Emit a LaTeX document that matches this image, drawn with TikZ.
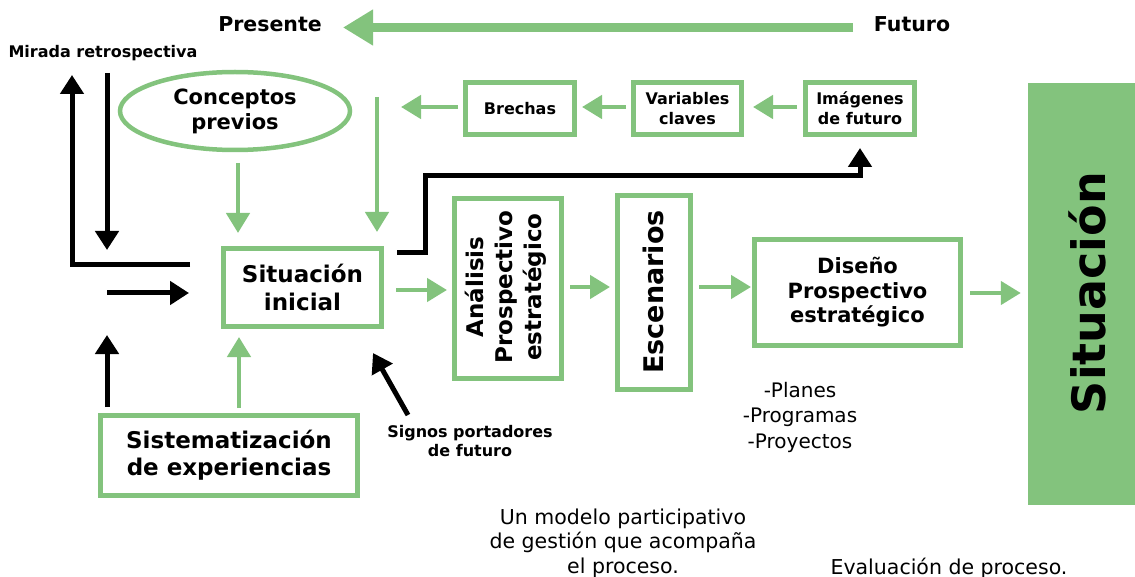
\documentclass[tikz,border=0pt]{standalone}
\usepackage{fontspec}
\setmainfont{DejaVu Sans}
\usetikzlibrary{arrows.meta,shapes.geometric}
\definecolor{gr}{RGB}{131,195,125}
\begin{document}
\begin{tikzpicture}[x=1pt,y=-1pt,
  gbox/.style={draw=gr, line width=5pt, inner sep=0pt, align=center},
  garrow/.style={draw=gr, line width=4.5pt, -{Triangle[width=23pt,length=20pt]}},
  bigarrow/.style={draw=gr, line width=9pt, -{Triangle[width=34pt,length=30pt]}},
  barrow/.style={draw=black, line width=5pt, -{Triangle[width=23pt,length=19pt]}},
  lbl/.style={inner sep=0pt, align=center},
]
\useasboundingbox (0,0) rectangle (1135,577);

% top labels and big arrow
\node[lbl, font=\bfseries\fontsize{20.5}{24}\selectfont, anchor=base] (pres) at (270,32) {Presente};
\node[lbl, font=\bfseries\fontsize{20.5}{24}\selectfont, anchor=base] (fut) at (912,32) {Futuro};
\coordinate (bigA) at (853,27.5);
\coordinate (bigB) at (343,27.5);
\draw[bigarrow] (bigA) -- (bigB);

\node[lbl, font=\bfseries\fontsize{16}{19}\selectfont, anchor=base] (mir) at (103,58) {Mirada retrospectiva};

% top row boxes
\node[gbox, minimum width=109pt, minimum height=52pt, font=\bfseries\fontsize{16}{20}\selectfont] (bre) at (520,108.5) {Brechas};
\node[gbox, minimum width=108pt, minimum height=52pt, font=\bfseries\fontsize{16}{20}\selectfont] (var) at (687.5,108.5) {Variables\\claves};
\node[gbox, minimum width=109pt, minimum height=52pt, font=\bfseries\fontsize{16}{20}\selectfont] (img) at (860,108.5) {Imágenes\\de futuro};

% ellipse
\node[ellipse, draw=gr, line width=4.5pt, minimum width=230pt, minimum height=78pt, inner sep=0pt, align=center, font=\bfseries\fontsize{21}{25}\selectfont] (con) at (235,111) {Conceptos\\previos};

% main boxes
\node[gbox, minimum width=158pt, minimum height=78pt, font=\bfseries\fontsize{23}{28}\selectfont] (sit) at (302.5,287.5) {Situación\\inicial};
\node[gbox, minimum width=257pt, minimum height=80pt, font=\bfseries\fontsize{23}{27}\selectfont] (sis) at (229,455.5) {Sistematización\\de experiencias};
\node[gbox, minimum width=107pt, minimum height=180pt] (ana) at (508,288.5) {};
\node[lbl, rotate=90, font=\bfseries\fontsize{23}{29}\selectfont] (anat) at (506,287) {Análisis\\Prospectivo\\estratégico};
\node[gbox, minimum width=73pt, minimum height=194pt] (esc) at (654,292.5) {};
\node[lbl, rotate=90, font=\bfseries\fontsize{27}{32}\selectfont] (esct) at (653,292) {Escenarios};
\node[gbox, minimum width=206pt, minimum height=106pt, font=\bfseries\fontsize{21}{24.5}\selectfont] (dis) at (857.5,292.5) {Diseño\\Prospectivo\\estratégico};
\node[fill=gr, draw=none, minimum width=107pt, minimum height=422pt, inner sep=0pt] (fin) at (1081.5,294) {};
\node[lbl, rotate=90, font=\bfseries\fontsize{46}{50}\selectfont] (fint) at (1087,293) {Situación};

% other texts
\node[lbl, font=\bfseries\fontsize{16}{19}\selectfont] (sig) at (470,441) {Signos portadores\\de futuro};
\node[lbl, font=\fontsize{20}{25.5}\selectfont] (pla) at (800,417) {-Planes\\-Programas\\-Proyectos};
\node[lbl, font=\fontsize{20.5}{24.5}\selectfont] (mod) at (623,543) {Un modelo participativo\\de gestión que acompaña\\el proceso.};
\node[lbl, font=\fontsize{20.5}{24.5}\selectfont, anchor=base] (eva) at (949,574) {Evaluación de proceso.};

% green arrows
\coordinate (c1) at (238,163);
\coordinate (c2) at (238,233);
\draw[garrow] (c1) -- (c2);
\coordinate (d1) at (377,97);
\coordinate (d2) at (377,232);
\draw[garrow] (d1) -- (d2);
\coordinate (b1) at (401,107);
\draw[garrow, shorten <=5pt] (bre.west |- b1) -- (b1);
\draw[garrow, shorten <=5pt, shorten >=5pt] (var.west |- b1) -- (bre.east |- b1);
\draw[garrow, shorten <=6pt, shorten >=9pt] (img.west |- b1) -- (var.east |- b1);
\coordinate (h1) at (0,290);
\draw[garrow, shorten <=12pt, shorten >=5pt] (sit.east |- h1) -- (ana.west |- h1);
\coordinate (h2) at (0,287);
\draw[garrow, shorten <=6pt, shorten >=5pt] (ana.east |- h2) -- (esc.west |- h2);
\draw[garrow, shorten <=6pt, shorten >=1pt] (esc.east |- h2) -- (dis.west |- h2);
\coordinate (h3) at (0,293);
\draw[garrow, shorten <=7pt, shorten >=7pt] (dis.east |- h3) -- (fin.west |- h3);
\coordinate (u1) at (239,408);
\coordinate (u2) at (239,337);
\draw[garrow] (u1) -- (u2);

% black arrows
\coordinate (m1) at (190,265);
\coordinate (m2) at (72,75);
\draw[barrow] (m1) -- (72,265) -- (m2);
\coordinate (k1) at (107,73);
\coordinate (k2) at (107,250);
\draw[barrow] (k1) -- (k2);
\coordinate (r1) at (107,293);
\coordinate (r2) at (189,293);
\draw[barrow] (r1) -- (r2);
\coordinate (p1) at (107,407);
\coordinate (p2) at (107,335);
\draw[barrow] (p1) -- (p2);
\coordinate (s1) at (408,415);
\coordinate (s2) at (373,353);
\draw[barrow] (s1) -- (s2);
\coordinate (t1) at (397,253);
\draw[barrow, shorten >=11pt] (t1) -- (425,253) -- (425,176) -| (img.south);
\end{tikzpicture}
\end{document}
